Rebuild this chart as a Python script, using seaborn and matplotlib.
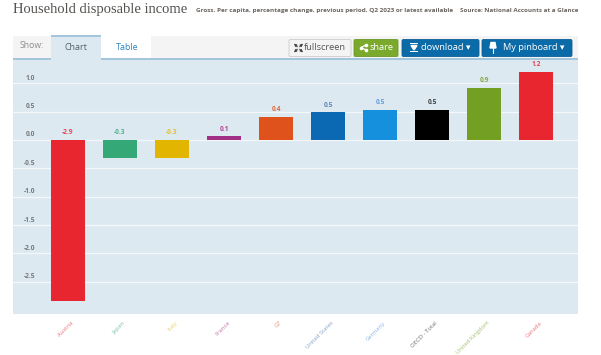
import matplotlib
matplotlib.use("Agg")
import matplotlib.pyplot as plt
from matplotlib.patches import FancyBboxPatch, Rectangle
import seaborn as sns
import pandas as pd

countries = ["Austria", "Japan", "Italy", "France", "G7", "United States", "Germany", "OECD - Total", "United Kingdom", "Canada"]
values = [-2.84, -0.32, -0.31, 0.07, 0.41, 0.49, 0.53, 0.53, 0.92, 1.20]
value_labels = ["-2.9", "-0.3", "-0.3", "0.1", "0.4", "0.5", "0.5", "0.5", "0.9", "1.2"]
bar_colors = ["#e8262f", "#35a878", "#e2b600", "#a02f85", "#e0521c", "#0b68b2", "#1490dc", "#000000", "#739f22", "#e8262f"]
label_colors = ["#e8262f", "#35a878", "#e6b800", "#a6287f", "#e0521c", "#4a72b0", "#4a90dc", "#222222", "#739f22", "#e8262f"]
y_ticks = [1.0, 0.5, 0.0, -0.5, -1.0, -1.5, -2.0, -2.5]

W, H = 601, 355
sns.set_theme(style="white")
plt.rcParams["font.family"] = ["Open Sans", "DejaVu Sans"]

fig = plt.figure(figsize=(W / 100, H / 100), dpi=100)
bg = fig.add_axes([0, 0, 1, 1])
bg.set_xlim(0, W)
bg.set_ylim(H, 0)
bg.axis("off")

# page furniture
bg.text(13, 10, "Household disposable income", fontsize=10.5, family="Liberation Serif", color="#55524e", va="center")
bg.text(196, 10.5, "Gross, Per capita, percentage change, previous period, Q2 2023 or latest available", fontsize=4.55, color="#6b6560", va="center", fontweight="bold")
bg.text(460, 10.5, "Source: National Accounts at a Glance", fontsize=4.5, color="#6b6560", va="center", fontweight="bold")
bg.add_patch(Rectangle((13, 36), 565, 23, fc="#f4f4f4", ec="none"))
bg.add_patch(Rectangle((13, 58), 565, 1.5, fc="#a4c6dc", ec="none"))
bg.add_patch(Rectangle((51, 36), 50, 24, fc="#dde9f1", ec="none", zorder=3))
bg.add_patch(Rectangle((51, 35), 50, 1.5, fc="#a4c6dc", ec="none", zorder=3))
bg.add_patch(Rectangle((101, 36), 50, 22, fc="#ffffff", ec="none"))
bg.text(20, 46, "Show:", fontsize=6.2, color="#8a8a8a", va="center")
bg.text(76, 47.5, "Chart", fontsize=6.4, color="#55606a", va="center", ha="center", zorder=4)
bg.text(127, 47.5, "Table", fontsize=6.4, color="#2a86c0", va="center", ha="center")


def button(x0, x1, color, text, edge, tx, tc="white"):
    bg.add_patch(FancyBboxPatch((x0, 39.5), x1 - x0, 17, boxstyle="round,pad=0,rounding_size=1.5", fc=color, ec=edge, lw=0.6))
    bg.text(tx, 48, text, fontsize=6.7, color=tc, va="center", ha="center")


button(289, 351, "#f4f4f4", "fullscreen", "#cccccc", 325, "#555555")
button(354, 398, "#7aa92c", "share", "#6b9a22", 382)
button(402, 479, "#0b6aa8", "download ▾", "#0a5f98", 446)
button(482, 572, "#0b6aa8", "My pinboard ▾", "#0a5f98", 534)

# button icons
for dx, dy in [(-1, -1), (1, -1), (-1, 1), (1, 1)]:
    bg.annotate("", (298.5 + dx * 4.5, 48 + dy * 4.5), (298.5 + dx * 1.2, 48 + dy * 1.2),
                arrowprops=dict(arrowstyle="-|>", color="#444444", lw=0.8, mutation_scale=3.5, shrinkA=0, shrinkB=0))
bg.plot([366, 361, 366], [45, 47.5, 50], color="white", lw=0.9, marker="o", ms=1.6)
bg.add_patch(Rectangle((410, 43), 8, 1.2, fc="white", ec="none"))
bg.fill([411, 417, 414], [45.5, 45.5, 50], color="white")
bg.add_patch(Rectangle((410, 51), 8, 1.2, fc="white", ec="none"))
bg.fill([491, 495, 496, 490], [42.5, 42.5, 48, 48], color="white")
bg.plot([493, 493], [48, 53], color="white", lw=0.8)

# chart, y scale taken from gridlines (1.0 at 83.3 px, 0.0 at 140 px)
px_per_unit = 56.7
top, bottom = 60, 314
ax = fig.add_axes([13 / W, 1 - bottom / H, 565 / W, (bottom - top) / H])
df = pd.DataFrame({"country": countries, "value": values})
sns.barplot(data=df, x="country", y="value", hue="country", palette=bar_colors, legend=False, width=0.66, ax=ax, saturation=1, linewidth=0)
ax.set_facecolor("#dde9f1")
ax.set_ylim((140 - bottom) / px_per_unit, (140 - top) / px_per_unit)
ax.set_xlim(-1.058, 9.808)
ax.set_yticks(y_ticks)
ax.set_yticklabels([])
ax.grid(axis="y", color="#f4f8fb", lw=0.9)
ax.set_axisbelow(True)
ax.tick_params(length=0)
ax.set_xlabel("")
ax.set_ylabel("")
sns.despine(ax=ax, left=True, bottom=True)

for t in y_ticks:
    ax.annotate(f"{t:.1f}", (0, t), xycoords=("axes fraction", "data"), xytext=(22, 5), textcoords="offset pixels", fontsize=4.8, color="#777777", ha="right", va="center", fontweight="bold")

for i, (v, lab, c) in enumerate(zip(values, value_labels, label_colors)):
    ax.annotate(lab, (i, max(v, 0)), xytext=(0, 7), textcoords="offset pixels", fontsize=4.8, color=c, ha="center", va="center", fontweight="bold", alpha=0.85)

# country labels end a little to the right of the bar centre
ax.set_xticks(range(len(countries)))
ax.set_xticklabels([])
for i, (name, c) in enumerate(zip(countries, label_colors)):
    ax.annotate(name, (i, 0), xycoords=("data", "axes fraction"), xytext=(5, -8), textcoords="offset pixels", fontsize=4.2, color=c, alpha=0.65, rotation=45, ha="right", va="center", rotation_mode="anchor")

fig.savefig("out.png", dpi=100)
